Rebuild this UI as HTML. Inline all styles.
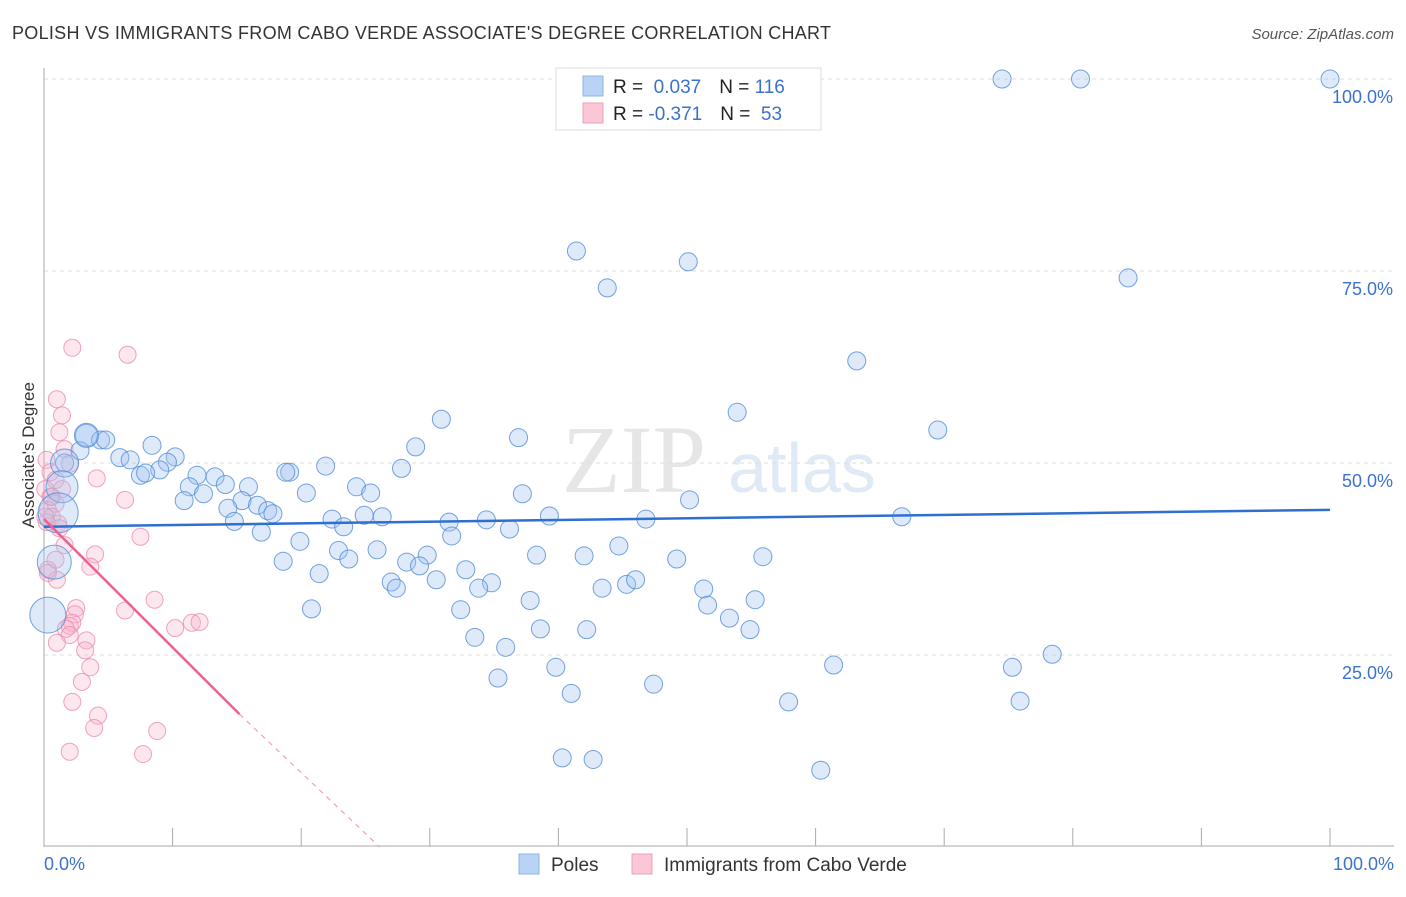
<!DOCTYPE html>
<html><head><meta charset="utf-8"><style>
body{margin:0;background:#fff;font-family:"Liberation Sans",sans-serif}
</style></head><body>
<svg id="c" width="1406" height="892" xmlns="http://www.w3.org/2000/svg">
<text x="12" y="39" font-size="18" fill="#333" textLength="819">POLISH VS IMMIGRANTS FROM CABO VERDE ASSOCIATE'S DEGREE CORRELATION CHART</text>
<text x="1394" y="39" font-size="15" fill="#555" font-style="italic" text-anchor="end">Source: ZipAtlas.com</text>
<text x="634" y="492" font-size="96" fill="#e6e6e6" font-family="Liberation Serif" text-anchor="middle">ZIP</text>
<text x="802" y="492" font-size="70" fill="#dfeaf6" text-anchor="middle">atlas</text>
<g id="grid"></g><g id="axes"></g><g id="pts"></g><g id="trend"></g>
<text transform="translate(34,455) rotate(-90)" font-size="17" fill="#333" text-anchor="middle">Associate's Degree</text>
<g>
<rect x="556" y="68" width="265" height="62" fill="#fff" stroke="#ddd"/>
<rect x="583" y="76" width="20" height="20" fill="#b9d3f5" stroke="#8fb4e6"/>
<rect x="583" y="103" width="20" height="20" fill="#fbc6d6" stroke="#eea3b8"/>
<text x="613" y="93" font-size="19" fill="#222">R = <tspan fill="#3a72cc">&#160;0.037</tspan><tspan dx="18">N = </tspan><tspan fill="#3a72cc">116</tspan></text>
<text x="613" y="120" font-size="19" fill="#222">R = <tspan fill="#3a72cc">-0.371</tspan><tspan dx="18">N = </tspan><tspan fill="#3a72cc">&#160;53</tspan></text>
</g>
<g>
<rect x="519" y="854" width="20" height="20" fill="#b9d3f5" stroke="#8fb4e6"/>
<text x="551" y="871" font-size="19" fill="#333">Poles</text>
<rect x="632" y="854" width="20" height="20" fill="#fbc6d6" stroke="#eea3b8"/>
<text x="664" y="871" font-size="19" fill="#333">Immigrants from Cabo Verde</text>
</g>
</svg>
<script>
const yTicks=[25,50,75,100];
const yTickLabels=["25.0%","50.0%","75.0%","100.0%"];
const xEndLabels=["0.0%","100.0%"];
const blueX=[74.5,80.6,100,41.4,50.1,43.8,84.3,63.2,53.9,30.9,69.5,36.9,28.9,3.3,4.4,4.8,8.4,2.8,1.6,5.9,6.7,10.2,9.6,9.0,7.5,7.9,11.9,13.3,14.1,19.1,18.8,21.9,27.8,24.3,25.4,20.4,15.9,11.3,10.9,12.4,15.4,16.6,14.3,17.4,17.8,14.8,37.2,50.2,39.3,46.8,34.4,31.5,22.4,23.3,26.3,24.9,66.7,36.2,31.7,16.9,19.9,25.9,22.9,29.8,28.2,29.2,38.3,42.0,44.7,49.2,55.9,32.8,18.6,21.4,23.7,27.0,27.4,30.5,34.8,33.8,43.4,45.3,46.0,51.3,37.8,55.3,32.4,51.6,20.8,53.3,38.6,42.2,54.9,33.5,35.9,39.8,61.4,75.3,78.4,35.3,41.0,47.4,57.9,75.9,40.3,42.7,60.4,3.3,1.6,1.4,1.1,0.8,0.3];
const blueY=[100,100,100,77.6,76.2,72.8,74.1,63.3,56.6,55.7,54.3,53.3,52.1,53.6,53.0,53.0,52.3,51.6,50.0,50.7,50.4,50.8,50.1,49.1,48.4,48.7,48.4,48.2,47.2,48.8,48.8,49.6,49.3,46.9,46.1,46.1,46.9,46.9,45.1,46.0,45.1,44.5,44.1,43.8,43.4,42.4,46.0,45.2,43.1,42.7,42.6,42.3,42.7,41.7,43.0,43.2,43.0,41.4,40.5,41.0,39.8,38.7,38.6,38.0,37.1,36.6,38.0,37.9,39.2,37.5,37.8,36.1,37.2,35.6,37.5,34.5,33.7,34.8,34.4,33.7,33.7,34.2,34.8,33.6,32.1,32.2,30.9,31.5,31.0,29.8,28.4,28.3,28.3,27.3,26.0,23.4,23.7,23.4,25.1,22.0,20.0,21.2,18.9,19.0,11.6,11.4,10.0,53.6,50.0,46.9,43.5,37.1,30.2];
const blueR=[9,9,9,9,9,9,9,9,9,9,9,9,9,11,9,9,9,9,9,9,9,9,9,9,9,9,9,9,9,9,9,9,9,9,9,9,9,9,9,9,9,9,9,9,9,9,9,9,9,9,9,9,9,9,9,9,9,9,9,9,9,9,9,9,9,9,9,9,9,9,9,9,9,9,9,9,9,9,9,9,9,9,9,9,9,9,9,9,9,9,9,9,9,9,9,9,9,9,9,9,9,9,9,9,9,9,9,12,14,16,20,17,18];
const pinkX=[2.2,6.5,1.0,1.4,1.2,1.6,2.0,0.2,0.5,0.9,1.4,4.1,0.1,0.5,0.9,0.3,0.6,1.1,0.2,6.3,7.5,1.2,1.6,0.9,3.97,3.6,0.3,1.0,8.6,6.3,2.5,2.4,2.2,2.0,1.7,10.2,11.5,12.1,2.0,3.3,1.0,3.2,3.6,2.95,2.2,4.2,3.9,8.8,2.0,7.7,0.3,0.6,0.1];
const pinkY=[65.0,64.1,58.3,56.2,54.0,51.8,49.9,50.4,48.8,47.8,46.6,48.0,46.6,45.6,44.7,43.9,43.0,42.1,42.3,45.2,40.4,41.5,39.3,37.4,38.1,36.5,36.1,34.8,32.2,30.8,31.1,30.3,29.2,28.8,28.4,28.5,29.2,29.3,27.6,26.9,26.6,25.6,23.4,21.5,18.9,17.1,15.5,15.1,12.4,12.1,35.7,45.6,43.0];
const blueTrend=[41.7,43.9];
const pinkTrend=[42.7,17.3,0];
const NS="http://www.w3.org/2000/svg";
const X0=44,X1=1330,Y0=847,Y100=79;
const sx=v=>X0+(X1-X0)*v/100;
const sy=v=>Y0-(Y0-Y100)*v/100;
function mk(t,a,p){const e=document.createElementNS(NS,t);for(const k in a)e.setAttribute(k,a[k]);p.appendChild(e);return e;}
const grid=document.getElementById('grid'),axes=document.getElementById('axes'),pts=document.getElementById('pts'),tr=document.getElementById('trend');
yTicks.forEach((t,i)=>{
 const l=mk('line',{x1:44,x2:1394,y1:sy(t),y2:sy(t),stroke:'#ddd','stroke-dasharray':'4,4'},grid);
 
 
 const tx=mk('text',{x:1393,y:sy(t)+24,'font-size':18,fill:'#3a72cc','text-anchor':'end'},axes);
 tx.textContent=yTickLabels[i];
 
 
});
const ya=mk('line',{x1:44,x2:44,y1:68,y2:847,stroke:'#aaa'},axes);


const xa=mk('line',{x1:44,x2:1394,y1:846,y2:846,stroke:'#aaa'},axes);


for(let i=1;i<=10;i++){const t=mk('line',{x1:sx(i*10),x2:sx(i*10),y1:828,y2:846,stroke:'#aaa'},axes);
 
 }
[[0,'start',44],[100,'end',1394]].forEach((d,i)=>{const t=mk('text',{x:d[2],y:870,'font-size':18,fill:'#3a72cc','text-anchor':d[1]},axes);t.textContent=xEndLabels[i];
 
 });
pinkX.forEach((x,i)=>{const c=mk('circle',{cx:sx(x),cy:sy(pinkY[i]),r:8.5,fill:'rgba(248,175,198,0.3)',stroke:'rgba(236,140,172,0.8)','stroke-width':1},pts);
 
 });
blueX.forEach((x,i)=>{const c=mk('circle',{cx:sx(x),cy:sy(blueY[i]),r:blueR[i],fill:'rgba(160,196,240,0.35)',stroke:'rgba(80,140,215,0.8)','stroke-width':1},pts);
 
 });
const bt=mk('line',{x1:sx(0),y1:sy(blueTrend[0]),x2:sx(100),y2:sy(blueTrend[1]),stroke:'#2f6fd0','stroke-width':2.5},tr);


const pt=mk('line',{x1:sx(0),y1:sy(pinkTrend[0]),x2:sx(15.2),y2:sy(pinkTrend[1]),stroke:'#e8648f','stroke-width':2.5},tr);


const pd=mk('line',{x1:sx(15.2),y1:sy(pinkTrend[1]),x2:sx(26.1),y2:sy(pinkTrend[2]),stroke:'#f0a0b8','stroke-width':1.2,'stroke-dasharray':'5,5'},tr);


</script>
</body></html>
